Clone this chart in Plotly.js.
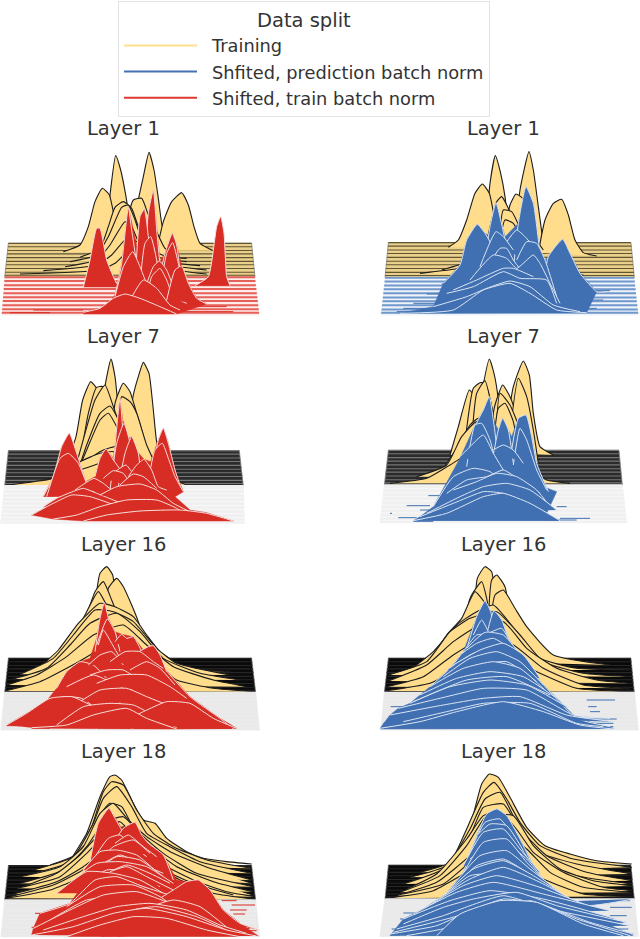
<!DOCTYPE html>
<html><head><meta charset="utf-8">
<script src="https://cdn.plot.ly/plotly-3.0.1.min.js"></script>
<style>html,body{margin:0;padding:0;background:#fff}#c{width:640px;height:939px}</style>
</head><body><div id="c"></div>
<script>
// Every curve: x,y,x,y,..., in units of a third of a pixel inside its panel window.
const L1_train=[
[400,372,415,240,430,170,447,97,462,150,475,235,485,310,500,372],
[315,376,330,225,347,107,362,150,378,230,392,320,410,378],
[470,392,490,305,515,245,545,218,565,255,582,320,600,370,640,392],
[190,395,240,375,265,320,285,245,307,205,328,225,345,300,365,370,390,398],
[370,408,385,290,400,240,425,235,445,285,470,335,495,385,530,408],
[240,412,300,385,325,320,345,262,370,245,395,265,415,320,450,385,500,410,560,415],
[210,425,290,405,325,350,365,262,385,255,405,300,430,370,470,410,560,425],
[195,440,290,420,330,375,375,305,395,320,420,375,470,420,600,437],
[130,452,290,435,335,405,385,350,410,365,450,415,500,435,620,450],
[60,462,300,450,345,430,390,390,420,400,470,440,620,462]];
const L1_mass=[250,577,320,560,345,525,365,430,385,262,400,330,412,385,420,290,433,268,447,340,460,210,472,340,480,425,495,400,517,340,530,375,545,438,565,490,590,535,620,552,530,582,250,582];
const L1_shift=[
[585,497,625,470,650,320,662,290,672,340,680,470,690,497],
[250,502,270,420,290,325,300,325,320,420,350,490,365,502],
[430,500,445,280,460,210,470,330,480,430,495,500],
[405,500,420,290,433,268,445,350,460,500],
[345,525,365,430,385,262,395,330,410,430,425,525],
[470,510,495,400,517,340,530,375,540,450,550,510],
[420,490,435,370,452,350,470,420,480,500],
[480,515,500,400,518,368,535,430,550,500,565,520],
[430,520,460,440,478,423,500,450,525,510,550,530],
[345,530,370,440,398,395,420,440,440,490,470,535],
[440,530,455,470,480,445,500,480,520,530,560,550],
[500,540,525,450,545,438,565,490,590,535,620,552],
[390,540,430,480,470,505,510,555,540,570],
[250,577,300,565,340,535,375,522,420,535,480,560,530,582]];
const L1_specks=[[100,250,570],[30,150,578],[530,700,575],[560,680,560]];
const L7_train=[
[300,365,315,170,333,87,345,140,355,240,365,365],
[375,372,400,195,415,140,430,97,447,130,460,240,470,335,485,380],
[205,385,228,320,248,210,272,155,290,175,310,240,325,330,345,390],
[335,392,345,220,370,160,390,185,410,250,425,300,450,390],
[240,395,265,250,290,172,310,170,335,230,350,300,370,400],
[230,400,255,310,285,210,315,165,340,230,365,310,385,405],
[350,410,365,200,390,215,410,250,440,345,470,410],
[235,420,260,345,300,250,330,228,355,270,375,350,400,420],
[230,430,260,360,300,270,325,250,360,310,390,380,420,430],
[215,445,255,395,310,360,350,350,390,390,420,445],
[100,455,175,440,240,395,300,370,340,365,400,400,460,450,540,460],
[25,465,150,448,240,420,340,390,440,420,560,465]];
const L7_mass=[130,500,160,440,185,350,208,310,230,370,258,455,285,440,300,385,318,357,340,385,345,350,360,205,368,270,372,280,385,325,395,320,412,365,432,388,452,395,475,330,490,295,505,340,525,420,550,485,525,500,570,540,620,548,700,573,250,573,160,567,95,555,150,525,205,497];
const L7_shift=[
[335,470,345,350,360,205,368,300,372,470],
[450,470,475,330,490,295,505,340,525,420,545,480],
[330,480,350,340,372,280,390,340,400,480],
[355,470,375,370,395,320,415,370,425,470],
[130,500,160,440,185,350,208,310,230,370,260,460,275,490],
[140,500,180,385,205,370,235,400,265,470,300,500],
[440,480,465,360,487,340,505,385,525,440,550,485],
[285,440,300,385,318,357,340,390,362,420,380,450],
[345,425,378,405,395,425,420,450],
[385,440,410,405,432,388,455,420,475,470,500,480],
[310,445,340,422,370,430,395,470],
[225,480,255,460,282,445,310,460,340,485],
[360,465,400,432,430,440,470,475],
[130,530,170,505,205,490,250,475,290,490,340,510,400,535],
[300,495,350,470,420,462,470,480,520,520,570,545],
[95,555,150,525,215,495,270,500,330,520,400,545],
[160,567,230,555,300,530,380,510,470,510,530,535,580,572],
[250,573,320,555,420,543,540,540,620,550,700,573]];
const L7_specks=[[130,150,535],[105,140,555]];
const L16_train=[
[270,320,290,110,300,55,320,35,338,60,348,140,370,320],
[300,325,325,100,350,70,370,95,395,150,415,200,440,280,480,330],
[200,330,255,195,285,110,310,80,335,135,360,200,400,330],
[150,335,215,250,255,180,295,110,330,170,370,220,430,335],
[110,345,175,285,235,205,300,145,345,155,400,185,440,240,480,290,560,340,690,350],
[60,358,160,310,220,240,285,165,340,170,400,200,470,280,530,325,690,360],
[40,372,140,340,210,270,270,205,350,175,420,230,490,310,600,355,720,375],
[20,390,110,360,200,305,280,240,370,210,440,270,520,335,640,375,740,395],
[15,408,120,380,200,340,270,300,350,245,440,305,530,375,640,400,760,410]];
const L16_mass=[20,510,80,475,130,450,170,400,200,350,240,320,270,310,290,250,300,190,313,143,325,190,345,230,365,238,400,245,430,285,460,272,490,335,570,425,660,490,710,520,520,522,350,522,150,520,95,518];
const L16_shift=[
[285,290,300,190,313,143,325,190,345,290],
[290,270,322,192,345,230,360,290],
[290,520,420,370,460,272,490,335,570,425,660,490,700,522],
[295,270,310,225,335,265,355,300],
[345,260,365,238,380,250,400,245,430,300,440,330],
[400,300,445,275,460,272,480,300,500,350],
[170,400,200,350,240,320,280,330,320,370],
[265,330,300,300,335,290,370,330],
[330,320,375,290,420,290,460,320,490,340],
[270,360,320,345,370,345,410,370],
[390,345,440,320,480,340,525,390],
[200,395,280,360,340,385,390,410],
[290,385,360,360,440,360,510,395,560,430],
[130,450,190,425,245,430,300,470],
[240,440,300,405,380,400,440,425,490,445],
[20,510,80,475,150,430,215,425,270,450,340,505,400,520],
[170,510,250,455,330,445,400,450,450,475,530,518],
[350,510,430,470,500,440,570,445,640,490,710,520],
[95,518,200,510,280,480,380,460,440,490,530,522]];
const L16_specks=[[95,150,520],[20,60,512],[640,700,515]];
const L18_train=[
[215,355,260,280,300,170,330,110,345,105,365,120,400,190,430,240,465,250,500,295,560,335,610,355,680,365,755,372],
[150,375,225,345,275,260,310,155,335,125,370,135,410,210,460,280,520,320,620,360,755,385],
[100,390,220,350,280,250,310,175,350,140,395,200,440,280,510,320,600,365,755,400],
[100,400,200,370,265,300,295,230,330,190,365,200,420,300,480,335,560,370,660,400,755,430],
[60,410,180,380,250,320,300,220,340,190,385,240,440,290,520,340,630,385,755,420],
[60,430,190,390,260,320,310,250,370,230,420,280,490,340,590,400,760,440],
[70,440,170,400,240,345,310,270,360,245,410,300,470,350,560,395,680,440,760,465],
[50,445,180,410,260,340,320,280,380,260,450,320,530,380,640,425,760,455],
[40,462,170,425,250,380,320,330,400,320,480,370,580,420,680,455,765,470],
[30,470,160,435,240,395,300,360,380,335,470,380,580,430,700,465],
[20,475,150,450,250,410,340,375,440,370,540,420,640,460,765,478]];
const L18_mass=[95,585,100,565,120,520,210,490,260,420,295,250,327,205,345,235,365,265,405,247,425,285,445,310,490,345,530,420,560,425,595,420,630,450,670,510,720,550,775,588];
const L18_shift=[
[260,420,295,250,327,205,345,235,365,270,420,380],
[340,310,370,265,405,247,425,285,445,310,490,345,520,420],
[285,350,325,295,360,285,400,320,440,350],
[345,310,385,285,430,320,470,350],
[300,360,340,320,400,300,450,340],
[250,390,300,335,350,330,410,345,470,395],
[310,370,360,345,430,375,490,400],
[280,400,350,350,420,360,490,410],
[220,420,290,370,360,365,440,380,520,430],
[320,400,380,375,450,400,510,430],
[240,440,320,390,400,395,480,440],
[330,395,380,380,440,410,520,450],
[170,460,260,395,340,400,420,420,490,460],
[260,470,340,430,430,440,520,490],
[120,520,210,490,285,420,350,410,430,440,520,470,600,520],
[440,500,520,450,560,425,595,420,630,450,670,510,720,550,780,570],
[200,500,300,440,400,435,480,470,560,530],
[150,540,260,480,370,470,480,480,600,560],
[100,565,210,510,310,465,410,455,510,490,610,540,690,570],
[350,590,430,510,520,480,600,500,690,570],
[130,570,250,530,350,500,450,490,560,510,660,555,740,580],
[300,590,400,510,470,500,590,530,700,580],
[95,585,220,560,340,520,440,505,560,530,680,570,770,588],
[200,590,300,555,400,530,500,535,620,570,720,590]];
const L18_specks=[[665,710,482],[695,765,495],[690,740,510],[700,735,522],[105,125,520],[95,130,562],[100,120,575],[720,750,565],[735,770,572]];
const R1_train=[
[435,312,450,150,477,35,490,90,505,200,520,312],
[345,315,360,130,376,47,392,100,405,170,420,315],
[505,338,525,240,550,190,575,178,595,225,615,300,640,338,680,348],
[235,322,265,300,290,240,315,160,337,132,358,160,375,240,400,322],
[400,330,420,195,438,162,458,175,480,230,500,300,520,330],
[340,350,380,185,395,170,415,205,440,290,480,345],
[385,360,400,210,425,215,450,265,480,340,520,360],
[380,370,405,240,430,250,470,330,490,370],
[215,390,280,370,340,330,395,290,440,320,500,370,620,395],
[150,400,270,385,340,360,400,340,450,370,520,395,640,405]];
const R1_mass=[90,520,190,500,220,430,270,375,290,300,322,253,345,280,362,290,378,188,392,240,405,290,425,270,445,250,468,140,490,190,510,340,525,360,535,350,578,298,600,340,630,400,680,455,650,518];
const R1_shift=[
[425,440,445,250,468,140,490,190,510,340,525,440],
[340,400,360,260,378,188,392,240,405,300,420,400],
[220,430,270,375,290,300,322,253,345,280,362,310,400,430],
[400,320,440,270,465,290,490,320,520,400],
[520,440,535,350,578,298,600,340,630,400,680,455,710,455],
[330,380,378,275,400,290,430,330],
[340,400,390,325,410,325,430,360,460,400],
[440,360,470,305,500,310,525,360,560,470],
[300,420,370,345,410,355,440,385,490,345,510,370,540,430,570,490],
[250,450,320,420,400,385,430,385,490,410],
[230,460,310,440,400,395,450,415,530,420,560,490],
[190,500,290,470,350,445,420,423,480,440,550,495,630,515],
[90,520,250,510,340,450,420,430,480,460,560,510,650,518]];
const R1_specks=[[215,250,432],[170,230,462],[130,200,490],[100,180,505],[80,250,515],[640,720,452],[620,700,480],[620,680,505],[600,650,515]];
const R7_train=[
[310,305,335,130,358,27,372,70,385,150,395,305],
[400,308,430,110,460,33,478,75,490,190,510,290,550,315],
[240,315,265,230,298,120,320,150,340,230,360,315],
[280,320,310,115,330,98,345,100,365,170,385,320],
[345,330,375,165,398,105,420,140,440,200,465,330],
[300,340,320,130,345,92,365,170,390,340],
[410,340,445,85,470,140,490,240,505,340],
[375,340,390,130,420,165,450,240,470,340],
[365,350,385,175,405,160,430,215,450,350],
[220,355,260,295,300,225,325,205,345,240,370,355],
[140,380,230,345,275,260,320,215,350,300,380,380],
[60,400,170,385,240,345,320,300,420,330,530,390,600,400]];
const R7_mass=[130,512,150,500,190,470,240,380,270,325,315,225,340,180,358,140,370,210,385,240,398,205,415,240,425,260,445,205,468,195,485,260,500,340,520,410,560,425,530,490,570,512];
const R7_shift=[
[300,330,320,220,340,180,358,140,370,210,385,330],
[290,350,315,225,335,220,360,270,380,350],
[365,340,385,240,398,205,415,240,430,340],
[425,300,445,205,468,195,485,260,500,340,535,425],
[430,345,450,235,470,270,500,360,530,420],
[270,320,300,290,340,255,370,310,400,360],
[370,300,400,285,430,300,460,340],
[190,470,250,380,310,355,360,365,400,400,470,450],
[230,430,290,390,350,380,400,360,450,390,510,430],
[250,420,320,395,380,370,440,380,500,420,540,470],
[170,490,270,440,340,410,410,400,480,420,560,480],
[150,500,250,460,340,425,400,430,470,460,530,490],
[130,512,230,490,340,440,400,430,480,460,570,512]];
const R7_specks=[[110,180,467],[175,220,437],[150,190,480],[60,66,490],[85,140,503],[130,190,514],[540,620,510],[570,660,505],[560,590,470]];
const R16_train=[
[310,310,322,70,345,35,365,50,375,120,395,310],
[350,315,365,75,380,60,405,95,420,180,450,315],
[270,325,300,130,335,80,350,130,380,330],
[350,320,375,120,400,105,435,160,470,215,550,300,720,330],
[170,335,230,240,275,190,315,110,350,150,400,210,450,330],
[120,345,190,290,260,210,320,170,370,150,440,230,510,310,620,340,780,345],
[55,360,170,320,240,230,300,190,380,170,450,240,520,320,640,355,780,365],
[55,378,170,330,250,260,320,215,400,200,470,280,560,340,680,375,780,385],
[50,395,160,365,250,300,340,250,430,270,520,340,640,390,780,400],
[45,408,180,385,280,335,400,300,500,350,620,400,780,410]];
const R16_mass=[30,520,60,480,85,460,120,445,150,420,180,395,240,340,280,290,320,185,345,138,362,170,372,168,395,195,415,250,460,320,530,400,620,490,730,520,30,522];
const R16_shift=[
[285,300,320,185,345,138,362,170,385,300],
[345,260,372,168,395,195,415,250,440,300],
[310,240,335,195,355,230],
[355,235,395,220,420,260],
[180,395,240,340,280,290,320,240,380,240,420,265,460,320,530,400,620,490,720,515],
[290,280,345,232,400,240,460,310],
[270,300,320,265,370,250,420,280,470,340],
[230,345,310,295,400,280,480,340],
[250,330,330,285,400,265,460,300,510,370],
[220,365,300,310,380,290,450,320,520,390],
[200,385,310,335,410,320,500,380],
[180,395,280,340,370,320,450,340,530,410],
[150,420,260,370,360,350,460,365,560,430],
[130,440,290,375,410,365,540,420],
[120,445,240,395,360,375,470,390,590,455],
[85,460,230,425,340,400,470,405,610,480,720,490],
[60,480,220,450,340,430,450,425,590,480,730,500],
[100,500,230,470,340,445,480,445,620,505,700,515],
[30,520,150,500,260,470,400,440,520,470,630,510,730,522]];
const R16_specks=[[62,130,455],[85,150,475],[60,110,490],[40,100,505],[33,110,518],[650,735,435],[655,680,455],[660,690,470],[650,740,492],[640,730,505],[650,730,515]];
const R18_train=[
[220,325,270,270,300,205,335,75,358,45,385,55,420,115,470,205,525,260,600,285,680,305,785,315],
[150,340,240,310,290,210,340,100,372,70,410,120,450,190,510,260,610,300,785,325],
[120,355,230,320,300,210,345,120,390,100,440,190,510,280,620,315,785,345],
[100,375,220,330,300,230,340,145,400,135,450,210,530,290,650,340,785,365],
[110,390,200,345,290,240,340,170,380,160,440,240,520,310,620,350,785,375],
[90,400,210,350,290,260,350,170,430,170,490,260,570,330,670,365,785,380],
[80,410,200,370,300,290,370,215,420,190,490,280,580,340,700,385,785,395],
[100,405,220,375,310,300,400,220,470,270,540,340,640,385,785,400],
[45,418,190,395,310,330,420,300,520,360,640,405,790,412]];
const R18_mass=[60,530,100,480,160,450,220,410,240,390,280,340,320,230,350,165,380,150,410,170,450,240,490,320,540,390,620,440,700,490,790,530];
const R18_shift=[
[240,440,280,340,320,230,350,165,380,150,410,170,450,240,490,320,540,390,640,440,790,420],
[300,280,345,190,390,180,440,250,490,320],
[320,230,360,195,410,200,460,275],
[280,320,340,220,400,210,450,270,510,340],
[300,300,350,265,410,255,470,300,520,360],
[270,360,340,250,410,240,470,310,540,380],
[240,390,330,290,410,275,480,330,570,400],
[255,380,320,320,400,300,470,340,560,410],
[220,410,310,330,400,305,490,350,600,420],
[210,420,300,350,390,345,500,385,610,440],
[190,430,300,360,400,325,510,370,640,440],
[180,445,290,395,400,375,520,400,660,465],
[160,450,280,380,380,350,510,385,680,450],
[130,465,260,400,370,370,520,405,720,455],
[120,490,250,440,380,410,520,430,700,490],
[100,480,240,425,360,395,520,420,740,480],
[100,495,220,445,310,420,440,400,560,440,770,490],
[80,510,220,470,300,440,400,410,540,450,780,500],
[70,520,230,480,340,450,460,445,620,490,760,520],
[60,525,200,500,280,465,400,420,510,435,660,490,790,525],
[110,530,240,505,340,470,480,425,620,480,780,530],
[200,530,270,465,390,425,500,430,640,495,760,530]];
const R18_specks=[[100,180,462],[90,170,480],[65,150,510],[90,160,520],[60,90,528],[700,780,425],[720,785,445],[720,770,470],[690,760,490],[700,775,510],[740,790,525]];

const panelTitles=["Layer 1","Layer 1","Layer 7","Layer 7","Layer 16","Layer 16","Layer 18","Layer 18"];
const legendNames=["Training","Shfited, prediction batch norm","Shifted, train batch norm"];
const legendColors=["#ffdf8e","#4472b5","#dc3a30"];
const trainCurves=[L1_train,R1_train,L7_train,R7_train,L16_train,R16_train,L18_train,R18_train];
const shiftCurves=[L1_shift,R1_shift,L7_shift,R7_shift,L16_shift,R16_shift,L18_shift,R18_shift];
const shiftMass=[L1_mass,R1_mass,L7_mass,R7_mass,L16_mass,R16_mass,L18_mass,R18_mass];
const shiftSpecks=[L1_specks,R1_specks,L7_specks,R7_specks,L16_specks,R16_specks,L18_specks,R18_specks];
// panel windows in pixels: left, top, width, height
const windows=[[0,120,320,210],[370,140,270,180],[0,330,320,200],[370,350,270,180],[0,555,270,180],[370,555,270,180],[0,740,320,199],[370,759,270,180]];
// band corners: top, mid, bottom, back-left, back-right, mid-left, mid-right, front-left, front-right
const bands=[
[370,472,585,25,755,14,765,5,778],[308,413,525,55,783,45,793,33,805],
[362,467,580,25,718,14,730,2,733],[301,405,518,55,747,43,757,30,770],
[310,412,525,25,755,14,767,3,778],[310,412,525,55,783,43,793,33,805],
[377,480,590,25,755,14,767,3,778],[319,420,532,55,783,45,793,30,805]];
const rowStops=[0,0.1,0.21,0.31,0.42,0.53,0.63,0.74,0.85,0.94];
const backFill=["#ead08a","#ead08a","#2b2b2b","#2b2b2b","#0a0a0a","#0a0a0a","#0a0a0a","#0a0a0a"];
const backLine=["#5f5533","#5f5533","#777777","#777777","#262626","#262626","#262626","#262626"];
const frontFill=["#fdecea","#eef3fa","#f0f0f0","#f0f0f0","#e9e9e9","#e9e9e9","#e9e9e9","#e9e9e9"];
const frontLine=["#e6605a","#6f97cb","#f8f8f8","#f8f8f8","#ececec","#ececec","#ececec","#ececec"];
const shiftColor=["#d82d25","#4070b2","#d82d25","#4070b2","#d82d25","#4070b2","#d82d25","#4070b2"];
const shiftLine=["#f7dedb","#dbe5f3","#f7dedb","#dbe5f3","#f7dedb","#dbe5f3","#f7dedb","#dbe5f3"];

const traces=[],layout={
  width:640,height:939,margin:{l:0,r:0,t:0,b:0},paper_bgcolor:"#fff",plot_bgcolor:"rgba(0,0,0,0)",
  font:{family:"DejaVu Sans",size:18,color:"#333"},
  showlegend:true,
  legend:{x:118/640,y:1-1/939,xanchor:"left",yanchor:"top",bgcolor:"#fff",bordercolor:"#e3e3e3",borderwidth:1,
    itemwidth:83,tracegroupgap:0,font:{family:"DejaVu Sans",size:17.8,color:"#333"},
    title:{text:"Data split",side:"top center",font:{family:"DejaVu Sans",size:19.5,color:"#333"}}},
  annotations:[]};
const px=c=>{const x=[],y=[];for(let i=0;i<c.length;i+=2){x.push(c[i]);y.push(c[i+1]);}return{x,y};};
function rows(top,bot,xl0,xr0,xl1,xr1){
  const x=[],y=[];
  rowStops.forEach(s=>{x.push(xl0+(xl1-xl0)*s,xr0+(xr1-xr0)*s,null);const v=top+(bot-top)*s;y.push(v,v,null);});
  return{x,y};
}
windows.forEach((w,i)=>{
  const ax=i===0?"":String(i+1),xa="x"+ax,ya="y"+ax;
  layout["xaxis"+ax]={domain:[w[0]/640,(w[0]+w[2])/640],range:[0,3*w[2]],visible:false,fixedrange:true,anchor:ya};
  layout["yaxis"+ax]={domain:[1-(w[1]+w[3])/939,1-w[1]/939],range:[3*w[3],0],visible:false,fixedrange:true,anchor:xa};
  const [t,m,b,bl,br,ml,mr,fl,fr]=bands[i];
  const common={xaxis:xa,yaxis:ya,hoverinfo:"skip",showlegend:false};
  const band=(x,y,f,l)=>traces.push({...common,type:"scatter",mode:"lines",x,y,fill:"toself",fillcolor:f,line:{color:l,width:0.8}});
  band([bl,br,mr,ml,bl],[t,t,m,m,t],backFill[i],"#8a8a8a");
  const rb=rows(t,m,bl,br,ml,mr);
  traces.push({...common,type:"scatter",mode:"lines",x:rb.x,y:rb.y,line:{color:backLine[i],width:1.1}});
  trainCurves[i].forEach(c=>{const p=px(c);
    traces.push({...common,type:"scatter",mode:"lines",x:p.x,y:p.y,fill:"toself",fillcolor:"#ffdd8c",
      line:{color:"#1c1c1c",width:1.1,shape:"spline",smoothing:0.5}});});
  band([ml,mr,fr,fl,ml],[m,m,b,b,m],frontFill[i],frontFill[i]);
  const rf=rows(m,b,ml,mr,fl,fr);
  traces.push({...common,type:"scatter",mode:"lines",x:rf.x,y:rf.y,line:{color:frontLine[i],width:i<2?2:1}});
  const sx=[],sy=[];
  shiftSpecks[i].forEach(s=>{sx.push(s[0],s[1],null);sy.push(s[2],s[2],null);});
  traces.push({...common,type:"scatter",mode:"lines",x:sx,y:sy,line:{color:shiftColor[i],width:1}});
  const mp=px(shiftMass[i]);
  traces.push({...common,type:"scatter",mode:"lines",x:mp.x,y:mp.y,fill:"toself",fillcolor:shiftColor[i],line:{color:shiftColor[i],width:0.5}});
  shiftCurves[i].forEach(c=>{const p=px(c);
    traces.push({...common,type:"scatter",mode:"lines",x:p.x,y:p.y,fill:"toself",fillcolor:shiftColor[i],
      line:{color:shiftLine[i],width:1,shape:"spline",smoothing:0.5}});});
  layout.annotations.push({xref:"paper",yref:"paper",x:((i%2?503:123))/640,
    y:1-[128,336,544,751][i>>1]/939,xanchor:"center",yanchor:"middle",showarrow:false,text:panelTitles[i],
    font:{family:"DejaVu Sans",size:19.5,color:"#333"}});
});
legendNames.forEach((n,k)=>traces.push({type:"scatter",mode:"lines",x:[null],y:[null],name:n,line:{color:legendColors[k],width:2},xaxis:"x",yaxis:"y",showlegend:true,hoverinfo:"skip"}));
Plotly.newPlot("c",traces,layout,{staticPlot:true,displayModeBar:false}).then(()=>{
  document.querySelectorAll(".legendlines path").forEach(p=>p.setAttribute("d","M5,0h73"));
});
</script></body></html>
